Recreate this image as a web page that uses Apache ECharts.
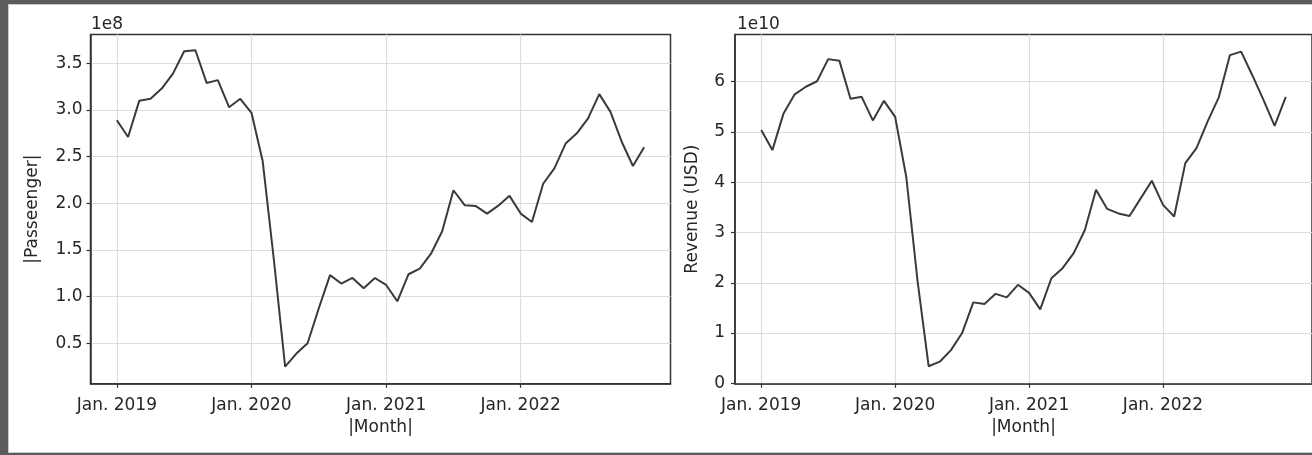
<!DOCTYPE html>
<html>
<head>
<meta charset="utf-8">
<script src="https://cdn.jsdelivr.net/npm/echarts@6/dist/echarts.min.js"></script>
<style>
  html, body { margin: 0; padding: 0; width: 1312px; height: 455px; overflow: hidden; background: #5b5b5b; }
  #frame { position: absolute; left: 8px; top: 4px; width: 1304px; height: 449px; background: #ffffff; border-left: 1px solid #c9c9c9; border-top: 1px solid #c9c9c9; border-bottom: 1px solid #c9c9c9; box-sizing: border-box; }
  #chart { position: absolute; left: 0; top: 0; width: 1312px; height: 455px; }
</style>
</head>
<body>
<div id="frame"></div>
<div id="chart"></div>
<script>
// Monthly values, Jan. 2019 .. Dec. 2022 (48 months)
const passengers = [ // x 1e8
  2.89, 2.71, 3.10, 3.12, 3.23, 3.39, 3.63, 3.64, 3.29, 3.32, 3.03, 3.12,
  2.97, 2.45, 1.39, 0.25, 0.39, 0.50, 0.875, 1.23, 1.14, 1.20, 1.09, 1.20,
  1.125, 0.95, 1.24, 1.30, 1.46, 1.70, 2.14, 1.98, 1.97, 1.89, 1.975, 2.08,
  1.89, 1.80, 2.21, 2.375, 2.64, 2.75, 2.91, 3.17, 2.98, 2.66, 2.40, 2.60
];
const revenue = [ // x 1e10 USD
  5.04, 4.64, 5.37, 5.75, 5.90, 6.01, 6.45, 6.42, 5.66, 5.70, 5.23, 5.62,
  5.30, 4.10, 2.05, 0.34, 0.43, 0.66, 1.00, 1.61, 1.58, 1.78, 1.71, 1.96,
  1.80, 1.47, 2.09, 2.29, 2.59, 3.05, 3.85, 3.47, 3.38, 3.33, 3.68, 4.03,
  3.55, 3.32, 4.38, 4.68, 5.21, 5.69, 6.53, 6.60, 6.13, 5.64, 5.12, 5.70
];
const xTickLabels = ['Jan. 2019', 'Jan. 2020', 'Jan. 2021', 'Jan. 2022'];
const xTickMonths = [0, 12, 24, 36];
const leftYTicks = [0.5, 1.0, 1.5, 2.0, 2.5, 3.0, 3.5];
const rightYTicks = [0, 1, 2, 3, 4, 5, 6];
const leftYName = '|Passeenger|';
const rightYName = 'Revenue (USD)';
const xName = '|Month|';
const leftOffsetText = '1e8';
const rightOffsetText = '1e10';

const FONT = 'DejaVu Sans';
const TXT = '#262626';
const SPINE = '#333333';
const GRIDC = '#dddddd';

function xAxisCfg(gridIndex) {
  return {
    type: 'value', gridIndex,
    min: -2.35, max: 49.35,
    name: xName, nameLocation: 'middle', nameGap: 33,
    nameTextStyle: { fontFamily: FONT, fontSize: 17, color: TXT },
    axisLine: { show: true, onZero: false, lineStyle: { color: SPINE, width: 1.5 } },
    axisTick: { show: true, length: 4, customValues: xTickMonths, lineStyle: { color: SPINE, width: 1.2 } },
    axisLabel: { customValues: xTickMonths, margin: 13, fontFamily: FONT, fontSize: 17, color: TXT,
      formatter: v => xTickLabels[xTickMonths.indexOf(v)] },
    splitLine: { show: true, lineStyle: { color: GRIDC, width: 1.2 } }
  };
}
function yAxisCfg(gridIndex, min, max, ticks, name, gap, margin, fmt) {
  return {
    type: 'value', gridIndex, min, max,
    name, nameLocation: 'middle', nameGap: gap,
    nameTextStyle: { fontFamily: FONT, fontSize: 17, color: TXT },
    axisLine: { show: true, onZero: false, lineStyle: { color: SPINE, width: 1.5 } },
    axisTick: { show: true, length: 4, customValues: ticks, lineStyle: { color: SPINE, width: 1.2 } },
    axisLabel: { customValues: ticks, margin, fontFamily: FONT, fontSize: 17, color: TXT, formatter: fmt },
    splitLine: { show: true, lineStyle: { color: GRIDC, width: 1.2 } }
  };
}

const chart = echarts.init(document.getElementById('chart'), null, { renderer: 'canvas' });
chart.setOption({
  animation: false,
  backgroundColor: 'transparent',
  grid: [
    { left: 90.5, top: 34.5, width: 580, height: 349.3, show: true, borderColor: SPINE, borderWidth: 1.5, backgroundColor: 'transparent' },
    { left: 735, top: 34.5, width: 581, height: 349.3, show: true, borderColor: SPINE, borderWidth: 1.5, backgroundColor: 'transparent' }
  ],
  xAxis: [xAxisCfg(0), xAxisCfg(1)],
  yAxis: [
    yAxisCfg(0, 0.066, 3.809, leftYTicks, leftYName, 49, 8, v => v.toFixed(1)),
    yAxisCfg(1, -0.01, 6.94, rightYTicks, rightYName, 34, 10, v => String(v))
  ],
  graphic: [
    { type: 'text', left: 91, top: 16, style: { text: leftOffsetText, fontFamily: FONT, fontSize: 17, fill: TXT } },
    { type: 'text', left: 737, top: 16, style: { text: rightOffsetText, fontFamily: FONT, fontSize: 17, fill: TXT } }
  ],
  series: [
    { type: 'line', xAxisIndex: 0, yAxisIndex: 0, showSymbol: false, data: passengers.map((v, i) => [i, v]),
      lineStyle: { color: '#3a3a3a', width: 2 }, z: 5 },
    { type: 'line', xAxisIndex: 1, yAxisIndex: 1, showSymbol: false, data: revenue.map((v, i) => [i, v]),
      lineStyle: { color: '#3a3a3a', width: 2 }, z: 5 }
  ]
});
</script>
</body>
</html>
